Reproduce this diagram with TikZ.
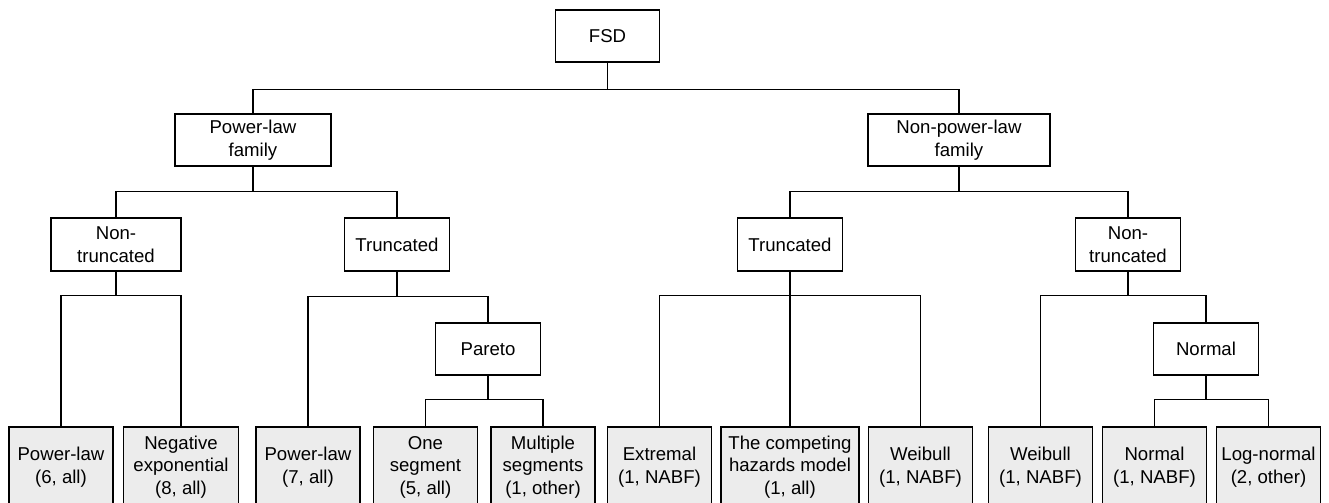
\documentclass[tikz,border=0pt]{standalone}
\usepackage{fontspec}
\setmainfont{Liberation Sans}
\usepackage{color}
\definecolor{leafgray}{RGB}{236,236,236}

\tikzset{
	box/.style={draw, line width=0.6pt, inner sep=0pt, align=center, minimum height=26pt, minimum width=#1},
	box/.default=52.25pt,
	leaf/.style={box=#1, fill=leafgray, minimum height=40pt},
	leaf/.default=52pt,
	link/.style={line width=0.6pt}
}

\begin{document}
\begin{tikzpicture}[x=0.5pt, y=-0.5pt, font=\fontsize{9.3}{11.25}\selectfont]
	\useasboundingbox (0,0) rectangle (1329,503);

	\node[box] (fsd) at (607.5,36) {FSD};
	\node[box=78pt] (plf) at (253,140) {Power-law\\family};
	\node[box=91pt] (nplf) at (959,140) {Non-power-law\\family};

	\node[box=65pt, minimum height=26.5pt] (ntl) at (116,244.5) {Non-\\truncated};
	\node[box, minimum height=26.5pt] (trl) at (397,244.5) {Truncated};
	\node[box, minimum height=26.5pt] (trr) at (790,244.5) {Truncated};
	\node[box, minimum height=26.5pt] (ntr) at (1128,244.5) {Non-\\truncated};

	\node[box] (pareto) at (488,349) {Pareto};
	\node[box] (normal) at (1206,349) {Normal};

	\node[leaf] (pl6) at (61,467) {Power-law\\(6, all)};
	\node[leaf=57.5pt] (negexp) at (181,467) {Negative\\exponential\\(8, all)};
	\node[leaf] (pl7) at (308,467) {Power-law\\(7, all)};
	\node[leaf] (oneseg) at (425.5,467) {One\\segment\\(5, all)};
	\node[leaf] (multseg) at (543,467) {Multiple\\segments\\(1, other)};
	\node[leaf] (extremal) at (659.5,467) {Extremal\\(1, NABF)};
	\node[leaf=69pt] (hazards) at (790,467) {The competing\\hazards model\\(1, all)};
	\node[leaf] (weibulla) at (920.5,467) {Weibull\\(1, NABF)};
	\node[leaf] (weibullb) at (1040.5,467) {Weibull\\(1, NABF)};
	\node[leaf] (normalleaf) at (1154.5,467) {Normal\\(1, NABF)};
	\node[leaf] (lognormal) at (1268.5,467) {Log-normal\\(2, other)};

	\draw[link] (fsd.south) -- ++(0,27) -| (plf.north);
	\draw[link] (fsd.south) -- ++(0,27) -| (nplf.north);
	\draw[link] (plf.south) -- ++(0,25) -| (ntl.north);
	\draw[link] (plf.south) -- ++(0,25) -| (trl.north);
	\draw[link] (nplf.south) -- ++(0,25) -| (trr.north);
	\draw[link] (nplf.south) -- ++(0,25) -| (ntr.north);

	\draw[link] (ntl.south) -- ++(0,24) -| (pl6.north);
	\draw[link] (ntl.south) -- ++(0,24) -| (negexp.north);
	\draw[link] (trl.south) -- ++(0,25) -| (pl7.north);
	\draw[link] (trl.south) -- ++(0,25) -| (pareto.north);
	\draw[link] (pareto.south) -- ++(0,24) -| (oneseg.north);
	\draw[link] (pareto.south) -- ++(0,24) -| (multseg.north);

	\draw[link] (trr.south) -- ++(0,24) -| (extremal.north);
	\draw[link] (trr.south) -- (hazards.north);
	\draw[link] (trr.south) -- ++(0,24) -| (weibulla.north);
	\draw[link] (ntr.south) -- ++(0,24) -| (weibullb.north);
	\draw[link] (ntr.south) -- ++(0,24) -| (normal.north);
	\draw[link] (normal.south) -- ++(0,24) -| (normalleaf.north);
	\draw[link] (normal.south) -- ++(0,24) -| (lognormal.north);
\end{tikzpicture}
\end{document}
